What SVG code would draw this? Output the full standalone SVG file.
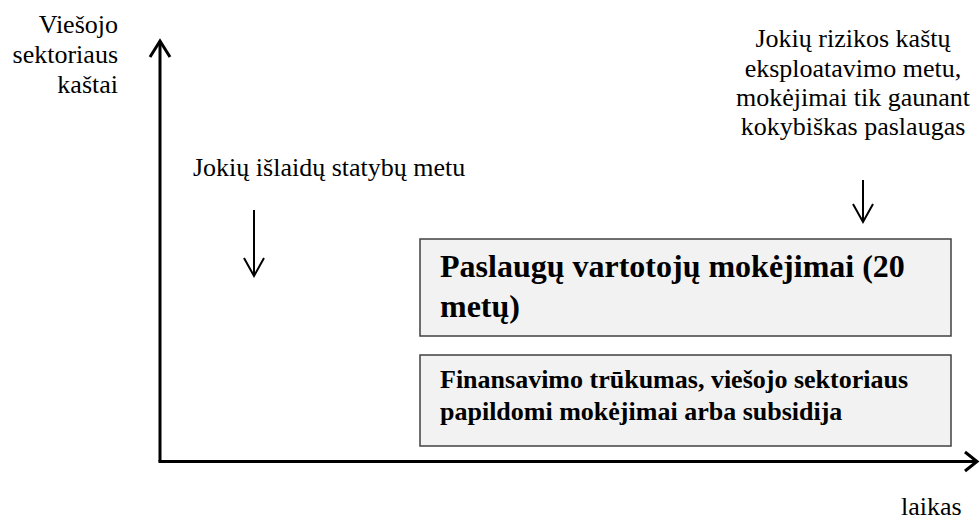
<svg xmlns="http://www.w3.org/2000/svg" width="980" height="520" viewBox="0 0 980 520">
<style>
text{font-family:'Liberation Serif','Times New Roman',Times,serif;fill:#000}
.lbl{font-size:26px}
.b1{font-size:32px;font-weight:bold}
.b2{font-size:26px;font-weight:bold}
.box{fill:#f2f2f2;stroke:#404040;stroke-width:1.5}
.ax{stroke:#000;stroke-width:3;fill:none}
.ar{stroke:#000;stroke-width:2;fill:none}
</style>
<rect width="980" height="520" fill="#fff"/>
<g id="connectors">
<path class="ax" d="M160,461.5 V41"/>
<path class="ax" d="M150,57 L160,41 L170,57"/>
<path class="ax" d="M158.5,461.5 H977"/>
<path class="ax" d="M965,452 L977,461.5 L965,471"/>
<path class="ar" d="M254,210 V276"/>
<path class="ar" d="M244,258 L254,276 L264,258"/>
<path class="ar" d="M863,180 V222"/>
<path class="ar" d="M853,204 L863,222 L873,204"/>
</g>
<g id="yaxis-label">
<text class="lbl" text-anchor="end" x="118" y="33">Viešojo</text>
<text class="lbl" text-anchor="end" x="118" y="63">sektoriaus</text>
<text class="lbl" text-anchor="end" x="118" y="93">kaštai</text>
</g>
<g id="xaxis-label">
<text class="lbl" x="901" y="515">laikas</text>
</g>
<g id="note-construction">
<text class="lbl" x="193" y="176">Jokių išlaidų statybų metu</text>
</g>
<g id="note-operation">
<text class="lbl" text-anchor="middle" x="853" y="47">Jokių rizikos kaštų</text>
<text class="lbl" text-anchor="middle" x="853" y="77">eksploatavimo metu,</text>
<text class="lbl" text-anchor="middle" x="853" y="106">mokėjimai tik gaunant</text>
<text class="lbl" text-anchor="middle" x="853" y="135">kokybiškas paslaugas</text>
</g>
<g id="box-payments">
<rect class="box" x="420" y="239" width="531" height="97"/>
<text class="b1" x="440" y="277">Paslaugų vartotojų mokėjimai (20</text>
<text class="b1" x="440" y="317">metų)</text>
</g>
<g id="box-gap">
<rect class="box" x="420" y="355" width="531" height="91"/>
<text class="b2" x="440" y="388">Finansavimo trūkumas, viešojo sektoriaus</text>
<text class="b2" x="440" y="420">papildomi mokėjimai arba subsidija</text>
</g>
</svg>
